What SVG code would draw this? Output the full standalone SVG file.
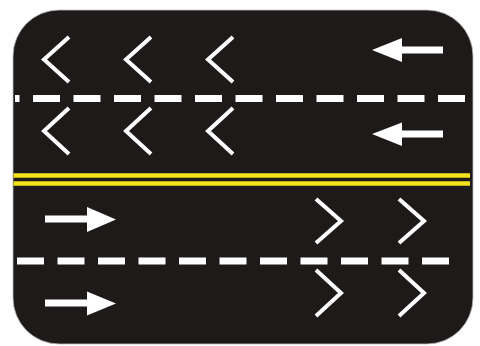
<svg xmlns="http://www.w3.org/2000/svg" width="480" height="346" viewBox="0 0 480 346">
<defs>
<style>
.dash{stroke:#ffffff;stroke-width:7;stroke-dasharray:27 13.5;fill:none}
.chev{stroke:#ffffff;stroke-width:4;fill:none;stroke-linejoin:miter;stroke-linecap:butt}
.shaft{stroke:#ffffff;stroke-width:7;fill:none}
.head{fill:#ffffff}
.yel{stroke:#f3e51c;stroke-width:4.5;fill:none}
</style>
</defs>
<rect width="480" height="346" fill="#ffffff"/>
<rect id="road" x="13" y="10" width="460" height="334" rx="46" ry="46" fill="#1d1a19" stroke="#bdbdbd" stroke-width="0.8"/>
<g id="lane-lines">
<line class="dash" x1="15" y1="98.5" x2="467" y2="98.5" stroke-dashoffset="22.5"/>
<line class="dash" x1="17" y1="261" x2="452" y2="261"/>
<line class="yel" x1="13.5" y1="175.5" x2="470" y2="175.5"/>
<line class="yel" x1="13.5" y1="183.5" x2="470" y2="183.5"/>
</g>
<g id="chevrons-left">
<polyline class="chev" points="69,37 44,59.5 69,82"/>
<polyline class="chev" points="151,37 126,59.5 151,82"/>
<polyline class="chev" points="233,37 208,59.5 233,82"/>
<polyline class="chev" points="69,108 44,131 69,154"/>
<polyline class="chev" points="151,108 126,131 151,154"/>
<polyline class="chev" points="233,108 208,131 233,154"/>
</g>
<g id="chevrons-right">
<polyline class="chev" points="316,199 341,221 316,243"/>
<polyline class="chev" points="399,199 424,221 399,243"/>
<polyline class="chev" points="316,270 341,293 316,316"/>
<polyline class="chev" points="399,270 424,293 399,316"/>
</g>
<g id="arrows-left">
<line class="shaft" x1="400" y1="50" x2="443" y2="50"/>
<polygon class="head" points="372,50 402,38 402,62"/>
<line class="shaft" x1="400" y1="134" x2="443" y2="134"/>
<polygon class="head" points="372,134 402,122.5 402,146"/>
</g>
<g id="arrows-right">
<line class="shaft" x1="45" y1="219" x2="90" y2="219"/>
<polygon class="head" points="116,219.5 87,207 87,232"/>
<line class="shaft" x1="45" y1="303" x2="90" y2="303"/>
<polygon class="head" points="116,303.5 87,291.5 87,315.5"/>
</g>
</svg>
